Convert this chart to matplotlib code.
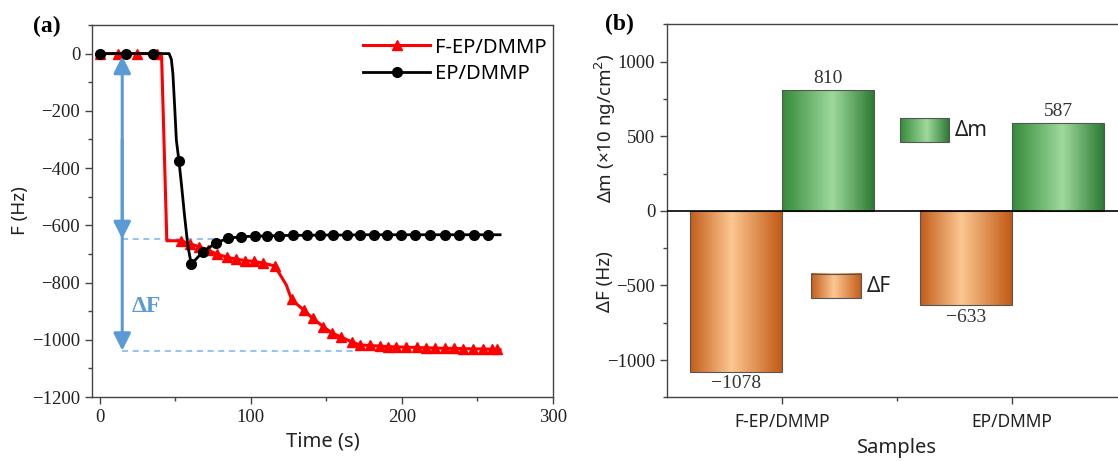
import numpy as np
import matplotlib
matplotlib.use('Agg')
import matplotlib.pyplot as plt
from matplotlib.colors import LinearSegmentedColormap
from matplotlib.ticker import MultipleLocator

plt.rcParams['font.family'] = 'Liberation Serif'
plt.rcParams['axes.unicode_minus'] = True

# Data, panel (a): frequency response vs time

t_fep = [0, 12.5, 25, 38, 41, 44.5, 54, 60, 66, 72, 78, 84, 90, 96, 102, 108, 116,
         123.6, 127, 135, 141, 148, 154, 160, 166.7, 172, 178.8, 185.4, 190.9, 196.4,
         203, 209.7, 215.9, 221.8, 228.5, 234.4, 240.6, 247.2, 253.9, 259.4, 262.7, 265]
f_fep = [0, 0, 0, 0, 0, -654, -654, -665, -675, -688, -701, -711, -718, -723, -726, -732, -742,
         -809, -859, -896, -925, -954, -977, -991, -1007, -1018, -1020, -1022, -1024, -1025,
         -1026, -1027, -1028, -1029, -1030, -1030, -1031, -1032, -1032, -1033, -1034, -1035]
mk_fep = [0, 1, 2, 3] + list(range(6, 17)) + list(range(18, 41))

t_ep = [0, 17.5, 35.5, 46, 47.5, 48.5, 49.7, 50.8, 52.5, 54.1, 56.3, 58.5, 60.7, 68.4, 77.3,
        85, 93.8, 102.6, 110.8, 119, 128, 137, 146, 154.6, 163.5, 172, 181.6, 190, 199.7,
        209, 218.5, 228.3, 238, 247.7, 257, 265]
f_ep = [0, 0, 0, 0, -20, -69, -186, -302, -374, -453, -570, -675, -736, -692, -661,
        -645, -640, -638, -637, -636, -635, -635, -634, -634, -634, -633, -633, -633, -633,
        -633, -633, -633, -633, -633, -633, -633]
mk_ep = [0, 1, 2, 8] + list(range(12, 35))

dF_level1 = -648    # EP/DMMP plateau marker
dF_level2 = -1038   # F-EP/DMMP plateau marker
arrow_t = 15

# Data, panel (b): ΔF and Δm per sample
samples = ['F-EP/DMMP', 'EP/DMMP']
delta_f = [-1078, -633]
delta_m = [810, 587]

sans = 'Noto Sans'
tick_col = '#222222'
spine_col = '#444444'

fig = plt.figure(figsize=(11.18, 4.61), dpi=100)

# ---------------- panel (a)
ax1 = fig.add_axes([92/1118, 1-397/461, (553-92)/1118, (397-25)/461])
ax1.plot(t_fep, f_fep, color='#ff0000', lw=2.2, marker='^', ms=7.5, markevery=mk_fep,
         label='F-EP/DMMP', zorder=3)
ax1.plot(t_ep, f_ep, color='black', lw=2.0, marker='o', ms=7, markevery=mk_ep,
         label='EP/DMMP', zorder=4)

blue = '#5b9bd5'
dash_col = '#74b4f0'
ax1.plot([arrow_t, 78], [dF_level1, dF_level1], ls=(0, (4, 3)), color=dash_col, lw=1.1)
ax1.plot([arrow_t, 170], [dF_level2, dF_level2], ls=(0, (4, 3)), color=dash_col, lw=1.1)
arr = dict(arrowstyle='-|>', color=blue, lw=2.2, mutation_scale=26, shrinkA=0, shrinkB=0)
ax1.annotate('', xy=(arrow_t, -8), xytext=(arrow_t, dF_level1 + 2), arrowprops=arr)
ax1.annotate('', xy=(arrow_t, dF_level1), xytext=(arrow_t, -300), arrowprops=arr)
ax1.annotate('', xy=(arrow_t, dF_level2), xytext=(arrow_t, dF_level1), arrowprops=arr)
ax1.text(31, -885, 'ΔF', color=blue, fontsize=17, fontweight='bold', ha='center', va='center')

ax1.set_xlim(-5, 300)
ax1.set_ylim(-1200, 100)
ax1.xaxis.set_major_locator(MultipleLocator(100))
ax1.xaxis.set_minor_locator(MultipleLocator(50))
ax1.yaxis.set_major_locator(MultipleLocator(200))
ax1.yaxis.set_minor_locator(MultipleLocator(100))
ax1.set_xlabel('Time (s)', family=sans, fontsize=14.5, color=tick_col, labelpad=4)
ax1.set_ylabel('F (Hz)', family=sans, fontsize=13.5, color=tick_col, labelpad=2)
leg = ax1.legend(loc='upper right', bbox_to_anchor=(1.025, 1.015), frameon=False,
                 prop={'family': sans, 'size': 14.5}, handlelength=3.3, handletextpad=0.25,
                 labelspacing=0.3)

# ---------------- panel (b)
ax2 = fig.add_axes([667/1118, 1-397.3/461, 460/1118, (397.3-24.3)/461])
x = np.arange(1, len(samples) + 1)
orange = LinearSegmentedColormap.from_list('or', [(0, '#c25d1a'), (0.45, '#fcc792'), (1, '#c25a15')])
green = LinearSegmentedColormap.from_list('gr', [(0, '#358a3a'), (0.55, '#9ed99c'), (1, '#2d7a33')])
grad = np.linspace(0, 1, 256).reshape(1, -1)

bars_f = ax2.bar(x - 0.2, delta_f, 0.4, fill=False, edgecolor='#555555', lw=0.8, zorder=3)
bars_m = ax2.bar(x + 0.2, delta_m, 0.4, fill=False, edgecolor='#555555', lw=0.8, zorder=3)
for bars, cmap in ((bars_f, orange), (bars_m, green)):
    for b in bars:
        x0, y0 = b.get_x(), b.get_y()
        ax2.imshow(grad, cmap=cmap, aspect='auto', zorder=2,
                   extent=[x0, x0 + b.get_width(), y0, y0 + b.get_height()])

for xi, v in zip(x - 0.2, delta_f):
    ax2.text(xi, v - 25, f'{v}'.replace('-', '−'), ha='center', va='top',
             fontsize=14, color='#333333')
for xi, v in zip(x + 0.2, delta_m):
    ax2.text(xi, v + 20, f'{v}', ha='center', va='bottom', fontsize=14, color='#333333')

ax2.axhline(0, color='black', lw=1.2, zorder=4)

# legend keys drawn as gradient boxes (axes fraction)
def key(ax, x0, x1, y0, y1, cmap, label):
    ax.imshow(grad, cmap=cmap, aspect='auto', extent=[x0, x1, y0, y1],
              transform=ax.transAxes, zorder=2)
    ax.add_patch(plt.Rectangle((x0, y0), x1 - x0, y1 - y0, transform=ax.transAxes,
                               fill=False, edgecolor='#555555', lw=0.8, zorder=3))
    ax.text(x1 + 0.012, (y0 + y1) / 2, label, transform=ax.transAxes, family=sans,
            fontsize=15, va='center', ha='left', color=tick_col)

key(ax2, 0.507, 0.613, 0.684, 0.748, green, 'Δm')
key(ax2, 0.313, 0.422, 0.265, 0.330, orange, 'ΔF')

ax2.set_xlim(0.5, 2.5)
ax2.set_ylim(-1250, 1250)
ax2.set_xticks(x)
ax2.set_xticklabels(samples, family=sans, fontsize=12.5)
ax2.set_xticks([1.5], minor=True)
ax2.yaxis.set_major_locator(MultipleLocator(500))
ax2.yaxis.set_minor_locator(MultipleLocator(250))
ax2.set_xlabel('Samples', family=sans, fontsize=14.5, color=tick_col, labelpad=5)
ax2.text(-0.135, 0.722, 'Δm (×10 ng/cm$^2$)', transform=ax2.transAxes, rotation=90,
         family=sans, fontsize=13.5, ha='center', va='center', color=tick_col)
ax2.text(-0.135, 0.309, 'ΔF (Hz)', transform=ax2.transAxes, rotation=90,
         family=sans, fontsize=13.5, ha='center', va='center', color=tick_col)

for ax in (ax1, ax2):
    for s in ax.spines.values():
        s.set_color(spine_col)
        s.set_linewidth(1.0)
    ax.tick_params(which='both', direction='out', color=spine_col, labelcolor=tick_col,
                   labelsize=13.5, top=False, right=False)
    ax.tick_params(which='major', length=5, width=1)
    ax.tick_params(which='minor', length=3, width=1)
ax2.tick_params(axis='x', labelsize=12.5, pad=6)
ax2.spines['right'].set_visible(False)

fig.text(47/1118, 1-26/461, '(a)', fontsize=17, fontweight='bold', ha='center', va='center')
fig.text(619/1118, 1-24/461, '(b)', fontsize=17, fontweight='bold', ha='center', va='center')

fig.savefig('out.png', dpi=100)
